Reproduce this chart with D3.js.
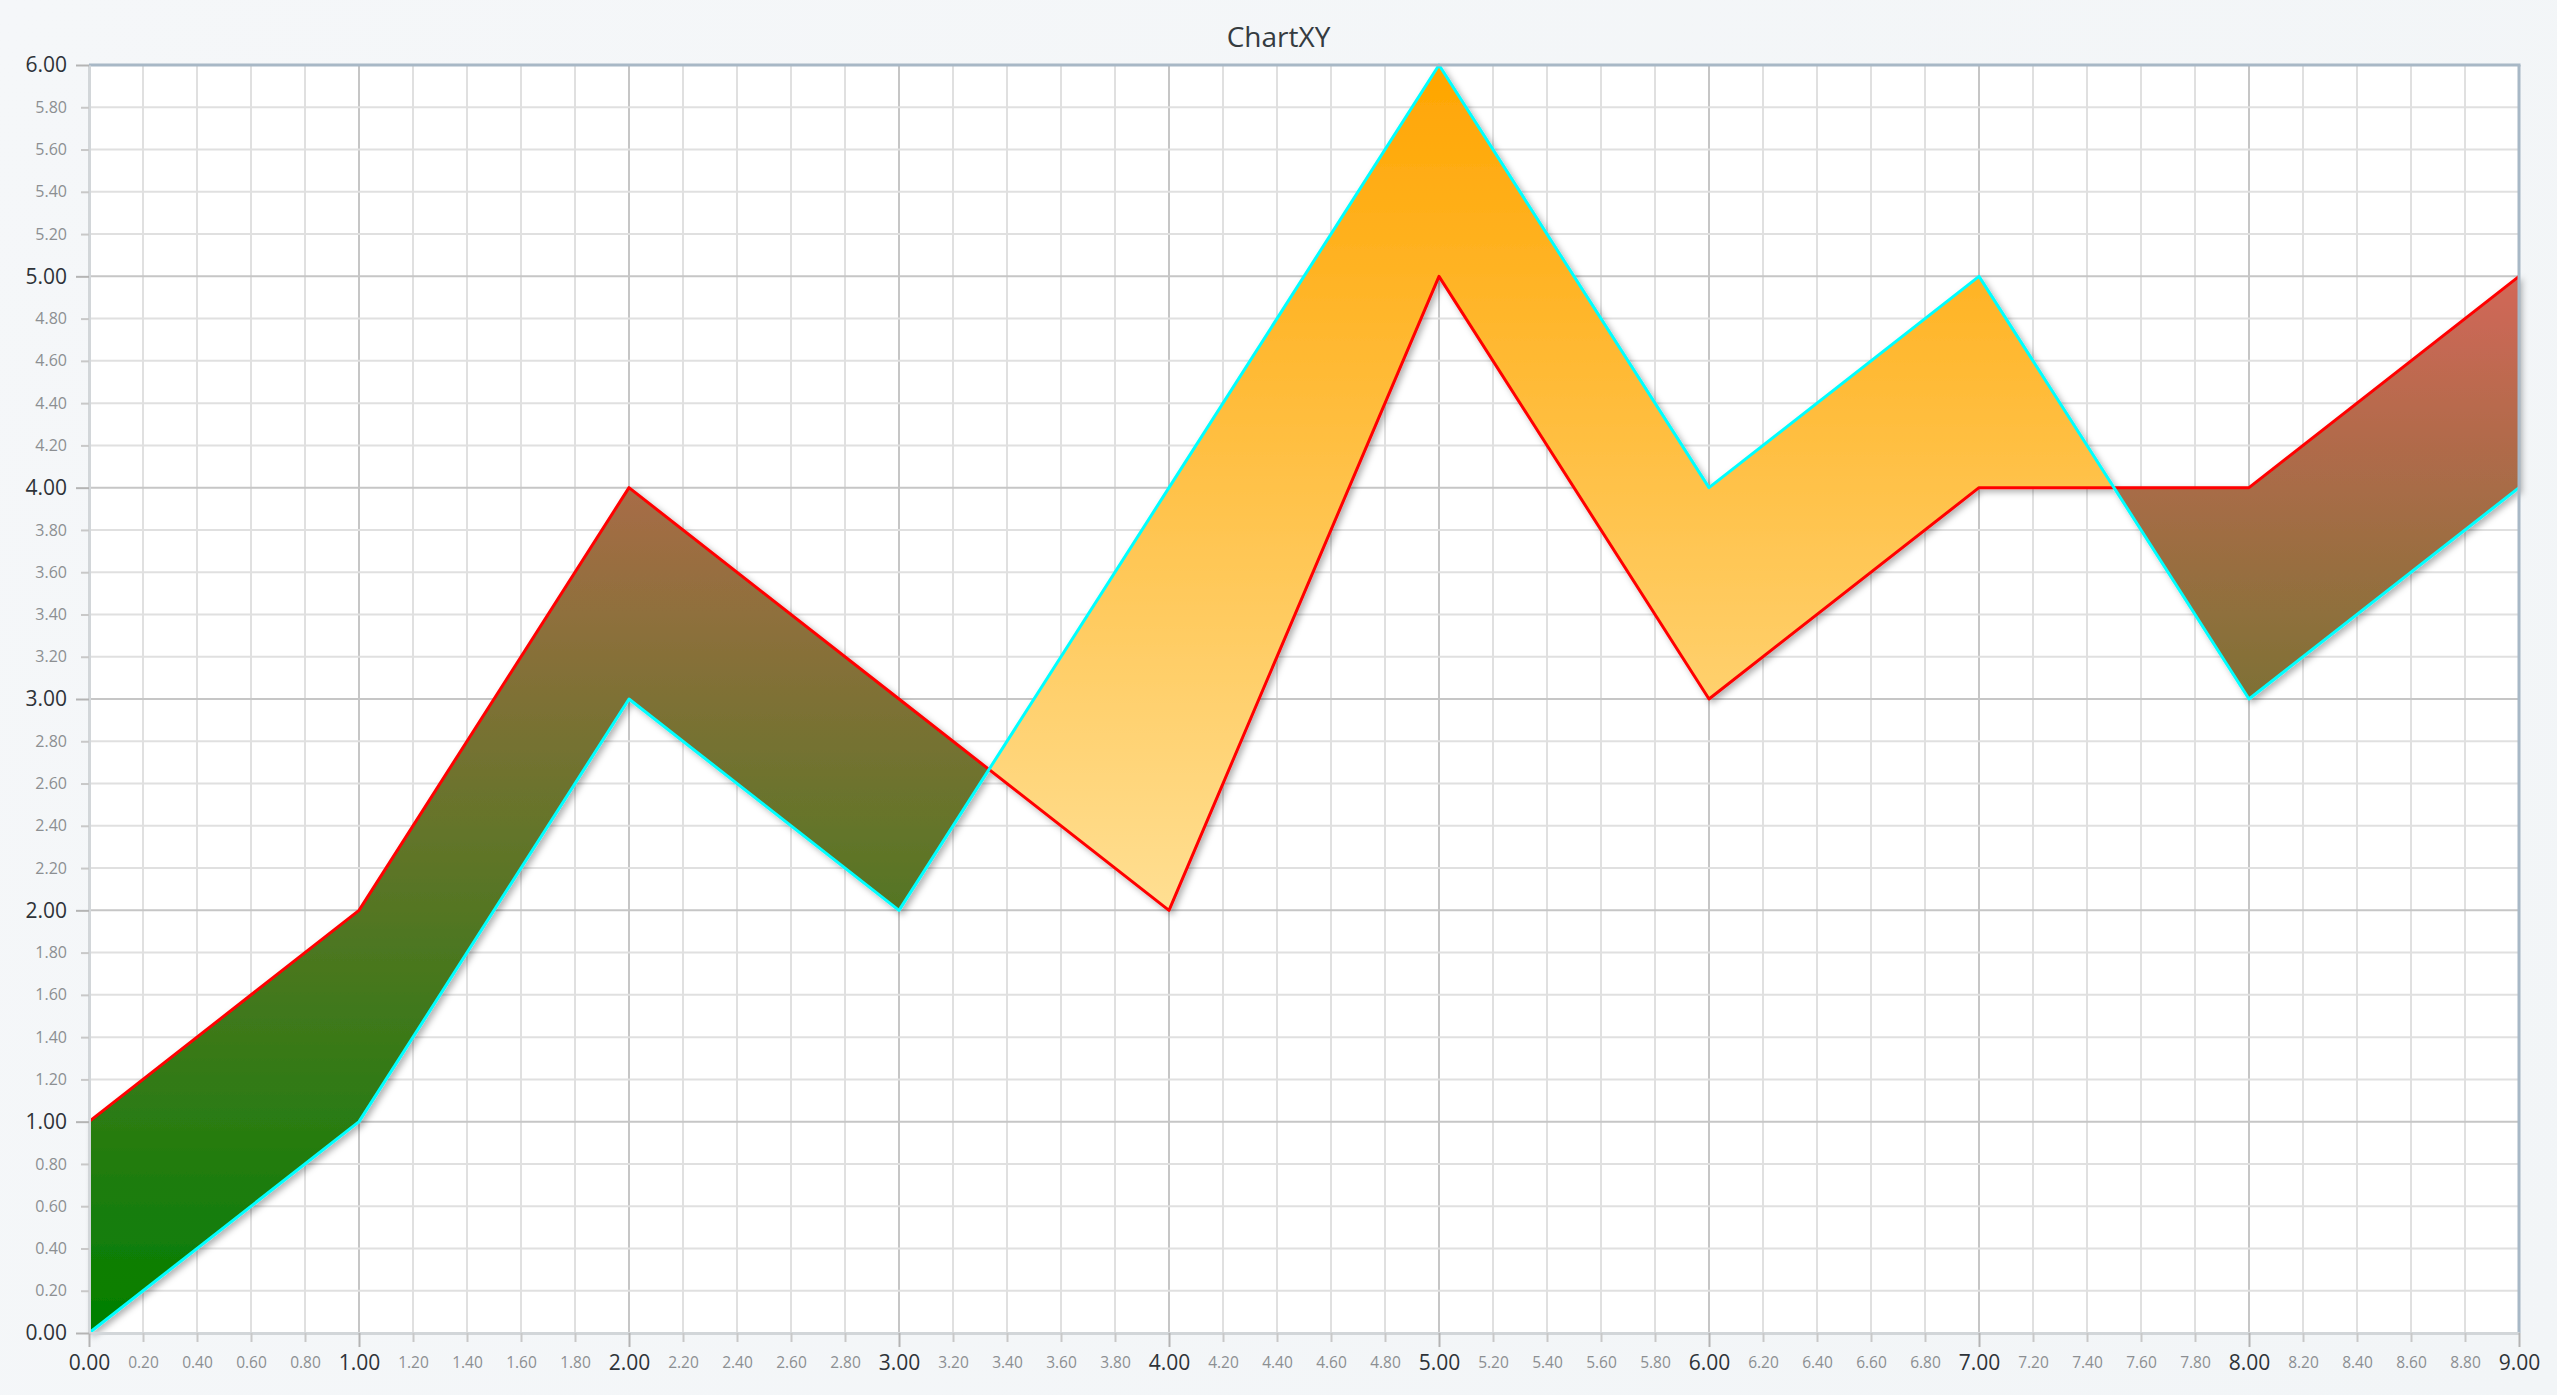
<!DOCTYPE html>
<html>
<head>
<meta charset="utf-8">
<script src="https://cdn.jsdelivr.net/npm/d3@7"></script>
<style>
    html, body { margin: 0; padding: 0; }
    body { background: linear-gradient(120deg, #f5f7f9 0%, #f2f5f7 100%); overflow: hidden; }
    #chart text { font-family: "Open Sans", "Noto Sans", sans-serif; }
</style>
</head>
<body>
<div id="chart"></div>
<script>
// data
const xValues = [0, 1, 2, 3, 4, 5, 6, 7, 8, 9];
const highValues = [1, 2, 4, 3, 2, 5, 3, 4, 4, 5];
const lowValues = [0, 1, 3, 2, 4, 6, 4, 5, 3, 4];
const chartTitle = 'ChartXY';

const W = 2557, H = 1395;
const margin = {left: 89, right: 38, top: 65, bottom: 62};

const svg = d3.select('#chart')
    .append('svg')
    .attr('width', W)
    .attr('height', H);

// scales
const xScale = d3.scaleLinear().domain([0, 9]).range([margin.left, W - margin.right]);
const yScale = d3.scaleLinear().domain([0, 6]).range([H - margin.bottom, margin.top]);

const defs = svg.append('defs');
// normal fill (high above low)
const gNormal = defs.append('linearGradient')
    .attr('id', 'grad-normal')
    .attr('gradientUnits', 'userSpaceOnUse')
    .attr('x1', 0).attr('x2', 0)
    .attr('y1', yScale(0)).attr('y2', yScale(6));
gNormal.append('stop').attr('offset', 0).attr('stop-color', 'rgb(0,128,0)');
gNormal.append('stop').attr('offset', 1).attr('stop-color', 'rgb(252,98,106)');
// inverted fill (low above high)
const gInv = defs.append('linearGradient')
    .attr('id', 'grad-inv')
    .attr('gradientUnits', 'userSpaceOnUse')
    .attr('x1', 0).attr('x2', 0)
    .attr('y1', yScale(0)).attr('y2', yScale(6));
gInv.append('stop').attr('offset', 0).attr('stop-color', 'rgb(255,252,220)');
gInv.append('stop').attr('offset', 1).attr('stop-color', 'rgb(255,165,0)');
// shadow
defs.append('filter')
    .attr('id', 'shadow')
    .attr('x', '-5%').attr('y', '-5%').attr('width', '110%').attr('height', '110%')
    .append('feDropShadow')
    .attr('dx', 3).attr('dy', 3)
    .attr('stdDeviation', 3)
    .attr('flood-color', '#000')
    .attr('flood-opacity', 0.3);

// plot background
svg.append('rect')
    .attr('x', xScale(0)).attr('y', yScale(6))
    .attr('width', xScale(9) - xScale(0))
    .attr('height', yScale(0) - yScale(6))
    .attr('fill', '#ffffff');

// grid
const minorX = d3.range(0, 45.5, 1).map((d) => d / 5);
const minorY = d3.range(0, 30.5, 1).map((d) => d / 5);
const isMajor = (d) => Math.abs(d - Math.round(d)) < 1e-6;

const grid = svg.append('g').attr('class', 'grid');
grid.selectAll('.vgrid')
    .data(minorX.filter((d) => d > 0 && d < 9))
    .enter().append('line')
    .attr('x1', (d) => xScale(d)).attr('x2', (d) => xScale(d))
    .attr('y1', yScale(0)).attr('y2', yScale(6))
    .attr('stroke', (d) => isMajor(d) ? '#c6c6c6' : '#e0e0e0')
    .attr('stroke-width', 2);
grid.selectAll('.hgrid')
    .data(minorY.filter((d) => d > 0 && d < 6))
    .enter().append('line')
    .attr('x1', xScale(0)).attr('x2', xScale(9))
    .attr('y1', (d) => yScale(d)).attr('y2', (d) => yScale(d))
    .attr('stroke', (d) => isMajor(d) ? '#c6c6c6' : '#e0e0e0')
    .attr('stroke-width', 2);

// split range into runs of same sign, inserting crossing points
const pts = [];
xValues.forEach((x, i) => {
    pts.push({x: x, hi: highValues[i], lo: lowValues[i]});
    if (i < xValues.length - 1) {
        const d0 = highValues[i] - lowValues[i];
        const d1 = highValues[i + 1] - lowValues[i + 1];
        if (d0 * d1 < 0) {
            const t = d0 / (d0 - d1);
            const cx = x + t * (xValues[i + 1] - x);
            const cy = highValues[i] + t * (highValues[i + 1] - highValues[i]);
            pts.push({x: cx, hi: cy, lo: cy, cross: true});
        }
    }
});
const runs = [];
let cur = [pts[0]];
let curSign = Math.sign(pts[0].hi - pts[0].lo) || 1;
for (let i = 1; i < pts.length; i++) {
    cur.push(pts[i]);
    if (pts[i].cross) {
        runs.push({sign: curSign, pts: cur});
        cur = [pts[i]];
        curSign = -curSign;
    }
}
runs.push({sign: curSign, pts: cur});

const series = svg.append('g').attr('class', 'series').attr('filter', 'url(#shadow)');
const area = d3.area()
    .x((d) => xScale(d.x))
    .y0((d) => yScale(d.lo))
    .y1((d) => yScale(d.hi));
series.selectAll('.range-area')
    .data(runs)
    .enter().append('path')
    .attr('class', 'range-area')
    .attr('d', (d) => area(d.pts))
    .attr('fill', (d) => d.sign > 0 ? 'url(#grad-normal)' : 'url(#grad-inv)');

const line = d3.line().x((d) => xScale(d[0])).y((d) => yScale(d[1]));
series.append('path')
    .attr('d', line(xValues.map((x, i) => [x, highValues[i]])))
    .attr('fill', 'none')
    .attr('stroke', '#ff0000')
    .attr('stroke-width', 3)
    .attr('stroke-linejoin', 'round');
series.append('path')
    .attr('d', line(xValues.map((x, i) => [x, lowValues[i]])))
    .attr('fill', 'none')
    .attr('stroke', '#00ffff')
    .attr('stroke-width', 3)
    .attr('stroke-linejoin', 'round');

// frame: top and right
svg.append('line')
    .attr('x1', xScale(0)).attr('x2', xScale(9) + 1.5)
    .attr('y1', yScale(6)).attr('y2', yScale(6))
    .attr('stroke', '#a8b8c6').attr('stroke-width', 3);
svg.append('line')
    .attr('x1', xScale(9)).attr('x2', xScale(9))
    .attr('y1', yScale(6)).attr('y2', yScale(0))
    .attr('stroke', '#a8b8c6').attr('stroke-width', 3);

// axes
const fmt = d3.format('.2f');
const xAxis = d3.axisBottom(xScale)
    .tickValues(minorX)
    .tickFormat(fmt)
    .tickSizeOuter(0);
const yAxis = d3.axisLeft(yScale)
    .tickValues(minorY)
    .tickFormat(fmt)
    .tickSizeOuter(0);

const xAxisG = svg.append('g')
    .attr('class', 'axis x-axis')
    .attr('transform', `translate(0, ${yScale(0)})`)
    .call(xAxis);
const yAxisG = svg.append('g')
    .attr('class', 'axis y-axis')
    .attr('transform', `translate(${xScale(0)}, 0)`)
    .call(yAxis);

[xAxisG, yAxisG].forEach((g) => {
    g.select('.domain').attr('stroke', '#d2d6d9').attr('stroke-width', 3);
    g.selectAll('.tick line')
        .attr('stroke', (d) => isMajor(d) ? '#b4b4b4' : '#c8c8c8')
        .attr('stroke-width', 2);
    g.selectAll('.tick text')
        .attr('fill', (d) => isMajor(d) ? '#2e3338' : '#8c8f92')
        .style('font-size', (d) => isMajor(d) ? '21px' : '15.5px');
});
xAxisG.selectAll('.tick line').attr('y2', (d) => isMajor(d) ? 14 : 9);
xAxisG.selectAll('.tick text').attr('y', 22).attr('dy', '0.71em')
    .attr('transform', (d) => isMajor(d) ? null : 'translate(0, 2)');
yAxisG.selectAll('.tick line').attr('x2', (d) => isMajor(d) ? -13 : -8);
yAxisG.selectAll('.tick text').attr('x', -22).style('font-size', (d) => isMajor(d) ? '21px' : '16px');

// title
svg.append('text')
    .attr('x', W / 2)
    .attr('y', 47)
    .attr('text-anchor', 'middle')
    .attr('fill', '#353b40')
    .style('font-size', '28px')
    .text(chartTitle);
</script>
</body>
</html>
